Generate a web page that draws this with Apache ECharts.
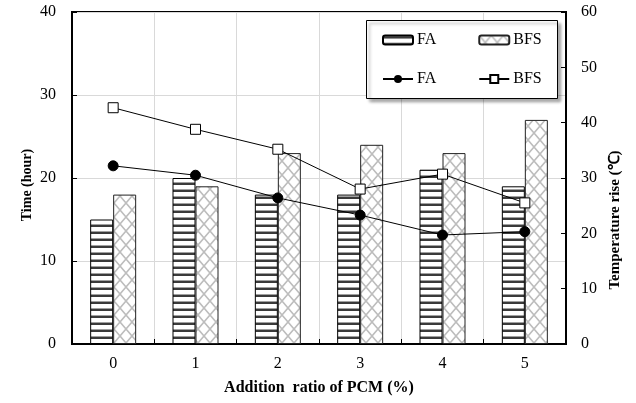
<!DOCTYPE html>
<html>
<head>
<meta charset="utf-8">
<script src="https://cdn.jsdelivr.net/npm/echarts@6/dist/echarts.min.js"></script>
<style>html,body{margin:0;padding:0;background:#fff;}#c{width:636px;height:403px;}</style>
</head>
<body>
<div id="c"></div>
<script>
// ---- data ----
var categories = ['0', '1', '2', '3', '4', '5'];
var timeFA = [15, 20, 18, 18, 21, 19];
var timeBFS = [18, 19, 23, 24, 23, 27];
var tempFA = [32.2, 30.5, 26.4, 23.3, 19.7, 20.3];
var tempBFS = [42.7, 38.8, 35.2, 28.0, 30.7, 25.5];
var leftTicks = [0, 10, 20, 30, 40];
var rightTicks = [0, 10, 20, 30, 40, 50, 60];

function stripePattern() {
  var c = document.createElement('canvas');
  c.width = 8; c.height = 7;
  var g = c.getContext('2d');
  g.fillStyle = '#ffffff'; g.fillRect(0, 0, 8, 7);
  g.fillStyle = '#a0a0a0'; g.fillRect(0, 0, 8, 1);
  g.fillStyle = '#3a3a3a'; g.fillRect(0, 1, 8, 2);
  return c;
}
function crossPattern() {
  var w = 12, h = 14;
  var c = document.createElement('canvas');
  c.width = w; c.height = h;
  var g = c.getContext('2d');
  g.fillStyle = '#ffffff'; g.fillRect(0, 0, w, h);
  g.strokeStyle = '#bdbdbd'; g.lineWidth = 1.6;
  g.beginPath();
  g.moveTo(-1, -h / w); g.lineTo(w + 1, h + h / w);
  g.moveTo(w + 1, -h / w); g.lineTo(-1, h + h / w);
  g.stroke();
  return c;
}
var fontFam = '"Liberation Serif", "Times New Roman", serif';
var chart = echarts.init(document.getElementById('c'));
var faFill = {image: stripePattern(), repeat: 'repeat'};
var bfsFill = {image: crossPattern(), repeat: 'repeat'};

chart.setOption({
  animation: false,
  backgroundColor: '#ffffff',
  textStyle: {fontFamily: fontFam, color: '#000'},
  grid: {left: 72, right: 70, top: 12, bottom: 59, containLabel: false,
         show: true, borderColor: '#000', borderWidth: 2, backgroundColor: 'transparent'},
  graphic: [{
    type: 'rect', z: 50, left: 366, top: 20,
    shape: {width: 191, height: 78},
    style: {fill: '#fff', stroke: '#000', lineWidth: 1,
            shadowBlur: 3, shadowOffsetX: 3, shadowOffsetY: 3, shadowColor: 'rgba(0,0,0,0.35)'}
  }],
  legend: [{
    z: 60, left: 382, top: 32, padding: 0, itemGap: 42,
    itemWidth: 30, itemHeight: 9,
    data: ['FA', 'BFS'],
    textStyle: {fontFamily: fontFam, fontSize: 16, color: '#000', padding: [0, 0, 0, -1]}
  }, {
    z: 60, left: 382, top: 71, padding: 0, itemGap: 42,
    itemWidth: 30, itemHeight: 10,
    data: ['FA ', 'BFS '],
    formatter: function (n) { return n.trim(); },
    textStyle: {fontFamily: fontFam, fontSize: 16, color: '#000', padding: [0, 0, 0, -1]}
  }],
  xAxis: {
    type: 'category', data: categories,
    axisLine: {lineStyle: {color: '#000', width: 2}},
    axisTick: {show: true, inside: true, length: 5, lineStyle: {color: '#000'}},
    axisLabel: {fontFamily: fontFam, fontSize: 16, color: '#000', margin: 12},
    splitLine: {show: true, lineStyle: {color: '#d9d9d9', width: 1}},
    name: 'Addition  ratio of PCM (%)', nameLocation: 'middle', nameGap: 36,
    nameTextStyle: {fontFamily: fontFam, fontSize: 16, fontWeight: 'bold', color: '#000'}
  },
  yAxis: [{
    type: 'value', min: 0, max: 40, interval: 10, position: 'left',
    axisLine: {show: true, lineStyle: {color: '#000', width: 2}},
    axisTick: {show: true, inside: true, length: 5, lineStyle: {color: '#000'}},
    axisLabel: {fontFamily: fontFam, fontSize: 16, color: '#000', margin: 16},
    splitLine: {show: true, lineStyle: {color: '#d9d9d9', width: 1}},
    name: 'Time (hour)', nameLocation: 'middle', nameGap: 38, nameRotate: 90,
    nameMoveOverlap: false,
    nameTextStyle: {fontFamily: fontFam, fontSize: 14, fontWeight: 'bold', color: '#000',
                    padding: [0, 14, 0, 0]}
  }, {
    type: 'value', min: 0, max: 60, interval: 10, position: 'right',
    axisLine: {show: true, lineStyle: {color: '#000', width: 2}},
    axisTick: {show: true, inside: true, length: 5, lineStyle: {color: '#000'}},
    axisLabel: {fontFamily: fontFam, fontSize: 16, color: '#000', margin: 15},
    splitLine: {show: false},
    name: 'Temperature rise (\u2103)', nameLocation: 'middle', nameGap: 40, nameRotate: 90,
    nameTextStyle: {fontFamily: fontFam, fontSize: 15, fontWeight: 'bold', color: '#000',
                    padding: [0, 84, 0, 0]}
  }],
  series: [{
    name: 'FA', type: 'bar', yAxisIndex: 0, data: timeFA,
    barWidth: 23, barGap: '0%',
    itemStyle: {color: faFill, borderColor: '#000', borderWidth: 1}
  }, {
    name: 'BFS', type: 'bar', yAxisIndex: 0, data: timeBFS,
    barWidth: 23, barGap: '0%',
    itemStyle: {color: bfsFill, borderColor: '#222', borderWidth: 1}
  }, {
    name: 'FA ', type: 'line', yAxisIndex: 1, data: tempFA, z: 10,
    symbol: 'circle', symbolSize: 10,
    lineStyle: {color: '#000', width: 1},
    itemStyle: {color: '#000', borderColor: '#000'}
  }, {
    name: 'BFS ', type: 'line', yAxisIndex: 1, data: tempBFS, z: 10,
    symbol: 'rect', symbolSize: 10,
    lineStyle: {color: '#000', width: 1},
    itemStyle: {color: '#fff', borderColor: '#000', borderWidth: 1}
  }]
});
</script>
</body>
</html>
